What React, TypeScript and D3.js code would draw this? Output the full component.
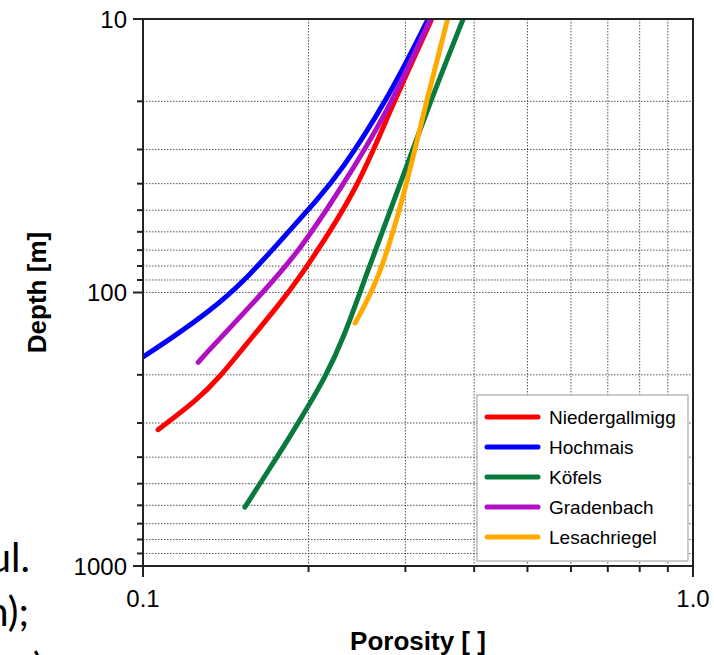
import React, { useEffect, useRef } from "react";
import * as d3 from "d3";

// porosity / depth
const seriesNames = ["Niedergallmigg", "Hochmais", "Köfels", "Gradenbach", "Lesachriegel"];
const seriesColors = ["#ff0000", "#0000ff", "#087a3c", "#b00fc4", "#ffaa00"];

const niedergallmiggPorosity = [0.335, 0.2814, 0.2451, 0.1985, 0.1797, 0.1526, 0.138, 0.1254, 0.1065];
const niedergallmiggDepth = [10, 21.5, 42.2, 80.8, 106.5, 158.2, 203.4, 247.6, 317.5];

const hochmaisPorosity = [0.33, 0.278, 0.228, 0.207, 0.183, 0.152, 0.131, 0.1134, 0.1];
const hochmaisDepth = [10, 19.8, 36.6, 45.9, 60.6, 92.2, 118.6, 145.6, 172];

const kofelsPorosity = [0.382, 0.3327, 0.2871, 0.2565, 0.2309, 0.2141, 0.1979, 0.1836, 0.1702, 0.1532];
const kofelsDepth = [10, 20.1, 45.2, 82.7, 149.4, 205, 269, 345, 438, 609];

const gradenbachPorosity = [0.333, 0.278, 0.228, 0.193, 0.165, 0.132, 0.126];
const gradenbachDepth = [10, 22.1, 42.2, 69.9, 100.4, 162, 180];

const lesachriegelPorosity = [0.358, 0.328, 0.302, 0.279, 0.262, 0.243];
const lesachriegelDepth = [10, 19.8, 39.8, 69.9, 97.8, 129.4];

const porositySeries = [niedergallmiggPorosity, hochmaisPorosity, kofelsPorosity, gradenbachPorosity, lesachriegelPorosity];
const depthSeries = [niedergallmiggDepth, hochmaisDepth, kofelsDepth, gradenbachDepth, lesachriegelDepth];

const xTickLabels = ["0.1", "1.0"];
const xMajor = [0.1, 1];
const yMajor = [10, 100, 1000];
const xMinor = [0.2, 0.3, 0.4, 0.5, 0.6, 0.7, 0.8, 0.9];
const yMinor = [20, 30, 40, 50, 60, 70, 80, 90, 200, 300, 400, 500, 600, 700, 800, 900];

const sideText = ["ul.", "n);", ")"];

const W = 714;
const H = 655;
const font = "'Liberation Sans', Arial, sans-serif";

export default function App() {
  const ref = useRef<SVGSVGElement>(null);

  useEffect(() => {
    const svg = d3.select(ref.current);
    svg.selectAll("*").remove();

    const x = d3.scaleLog().domain([0.1, 1]).range([143, 693]);
    const y = d3.scaleLog().domain([10, 1000]).range([19, 566]);
    const [x0, x1] = x.range();
    const [y0, y1] = y.range();

    // grid
    const grid = svg.append("g").attr("stroke", "#555").attr("stroke-width", 1).attr("stroke-dasharray", "1.5,1.5");
    grid.selectAll("line.gx")
      .data(xMinor)
      .enter()
      .append("line")
      .attr("x1", (d) => x(d)).attr("x2", (d) => x(d))
      .attr("y1", y0).attr("y2", y1);
    grid.selectAll("line.gy")
      .data(yMinor.concat([100]))
      .enter()
      .append("line")
      .attr("y1", (d) => y(d)).attr("y2", (d) => y(d))
      .attr("x1", x0).attr("x2", x1);

    // curves
    svg.append("defs").append("clipPath").attr("id", "plotclip")
      .append("rect").attr("x", x0).attr("y", y0).attr("width", x1 - x0).attr("height", y1 - y0);

    const line = d3.line<[number, number]>()
      .x((d) => x(d[0]))
      .y((d) => y(d[1]))
      .curve(d3.curveBasis);

    const curves = svg.append("g").attr("clip-path", "url(#plotclip)");
    porositySeries.forEach((por, i) => {
      const pts = por.map((p, j) => [p, depthSeries[i][j]] as [number, number]);
      curves.append("path")
        .attr("d", line(pts))
        .attr("fill", "none")
        .attr("stroke", seriesColors[i])
        .attr("stroke-width", 5)
        .attr("stroke-linecap", "round")
        .attr("stroke-linejoin", "round");
    });

    // frame
    const frame = svg.append("g").attr("stroke", "#222").attr("stroke-width", 2);
    frame.append("rect").attr("x", x0).attr("y", y0).attr("width", x1 - x0).attr("height", y1 - y0).attr("fill", "none");

    // ticks
    frame.selectAll("line.ty")
      .data(yMajor)
      .enter()
      .append("line")
      .attr("x1", x0 - 10).attr("x2", x0)
      .attr("y1", (d) => y(d)).attr("y2", (d) => y(d));
    frame.selectAll("line.tym")
      .data(yMinor)
      .enter()
      .append("line")
      .attr("x1", x0 - 6).attr("x2", x0 + 1)
      .attr("y1", (d) => y(d)).attr("y2", (d) => y(d));
    frame.selectAll("line.tx")
      .data(xMajor)
      .enter()
      .append("line")
      .attr("x1", (d) => x(d)).attr("x2", (d) => x(d))
      .attr("y1", y1).attr("y2", y1 + 11);
    frame.selectAll("line.txm")
      .data(xMinor)
      .enter()
      .append("line")
      .attr("x1", (d) => x(d)).attr("x2", (d) => x(d))
      .attr("y1", y1 - 1).attr("y2", y1 + 6);

    // tick labels
    svg.selectAll("text.ly")
      .data(yMajor)
      .enter()
      .append("text")
      .attr("x", x0 - 16)
      .attr("y", (d) => y(d) + 8.5)
      .attr("text-anchor", "end")
      .style("font-family", font)
      .style("font-size", "24px")
      .text((d) => String(d));
    svg.selectAll("text.lx")
      .data(xMajor)
      .enter()
      .append("text")
      .attr("x", (d) => x(d))
      .attr("y", 607)
      .attr("text-anchor", "middle")
      .style("font-family", font)
      .style("font-size", "24px")
      .text((d, i) => xTickLabels[i]);

    // axis titles
    svg.append("text")
      .attr("x", (x0 + x1) / 2)
      .attr("y", 650)
      .attr("text-anchor", "middle")
      .style("font-family", font)
      .style("font-size", "26px")
      .style("font-weight", "bold")
      .text("Porosity [ ]");
    svg.append("text")
      .attr("transform", "translate(46," + (y0 + y1) / 2 + ") rotate(-90)")
      .attr("text-anchor", "middle")
      .style("font-family", font)
      .style("font-size", "26px")
      .style("font-weight", "bold")
      .text("Depth [m]");

    // legend
    const lg = svg.append("g").attr("transform", "translate(477,395)");
    lg.append("rect").attr("width", 211).attr("height", 166).attr("fill", "#fff").attr("stroke", "#999").attr("stroke-width", 1);
    seriesNames.forEach((name, i) => {
      const ly = 22 + i * 30;
      lg.append("line")
        .attr("x1", 10).attr("x2", 61)
        .attr("y1", ly).attr("y2", ly)
        .attr("stroke", seriesColors[i])
        .attr("stroke-width", 5)
        .attr("stroke-linecap", "round");
      lg.append("text")
        .attr("x", 72)
        .attr("y", ly + 7)
        .style("font-family", font)
        .style("font-size", "19px")
        .text(name);
    });

    // cut-off text at the left edge of the screenshot
    const side = svg.append("g").style("font-family", "Lato, 'Noto Sans', sans-serif").style("font-size", "40px");
    side.append("text").attr("x", 30).attr("y", 572).attr("text-anchor", "end").text(sideText[0]);
    side.append("text").attr("x", 29).attr("y", 626).attr("text-anchor", "end").text(sideText[1]);
    side.append("text").attr("x", 33).attr("y", 682).text(sideText[2]);
  }, []);

  return (
    <svg
      ref={ref}
      width={W}
      height={H}
      style={{ position: "absolute", left: 0, top: 0, background: "#fff" }}
    />
  );
}
